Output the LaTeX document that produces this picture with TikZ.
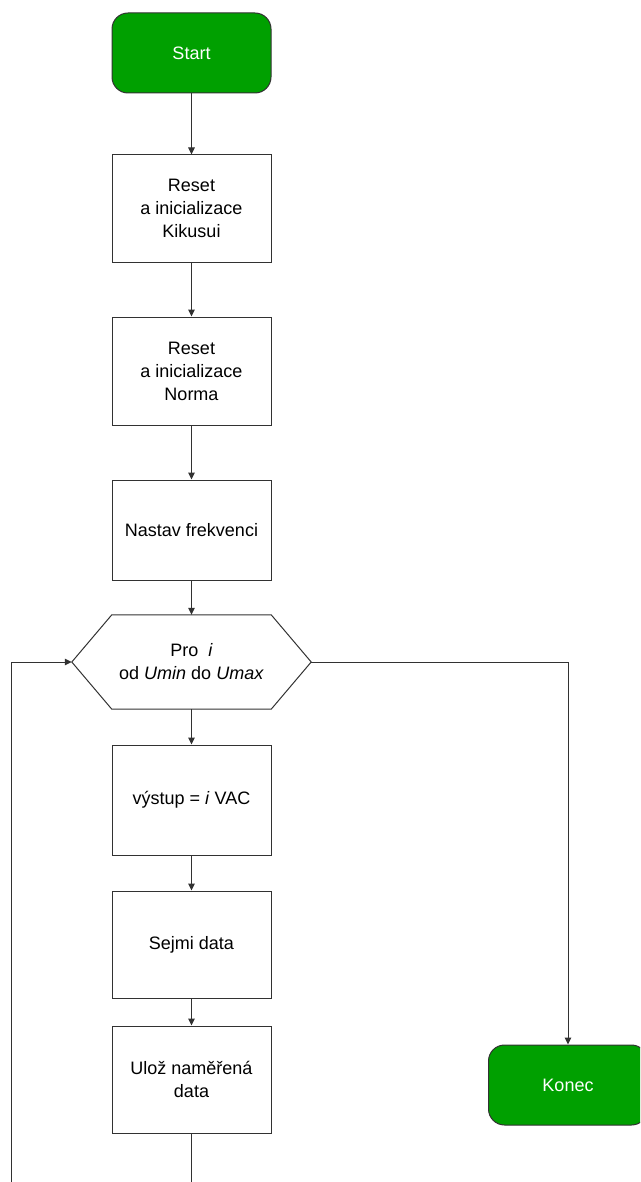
\documentclass[tikz,border=0pt]{standalone}
\usepackage{fontspec}
\setmainfont{Liberation Sans}
\usetikzlibrary{arrows.meta,calc,positioning}

\definecolor{termgreen}{RGB}{0,160,0}
\definecolor{linegray}{RGB}{50,50,50}

\begin{document}
\begin{tikzpicture}[x=1pt,y=-1pt,
  every node/.style={font=\fontsize{18}{23}\selectfont,align=center},
  box/.style={draw=linegray,line width=1pt,minimum width=159pt,inner sep=2pt},
  term/.style={box,fill=termgreen,text=white,rounded corners=16pt,minimum height=80pt},
  flow/.style={draw=linegray,line width=1pt,-{Triangle[length=7pt,width=6.5pt]}}]
  \clip (0,0) rectangle (640,1182);
  \useasboundingbox (0,0) rectangle (640,1182);
  % nodes
  \node[term] (start) at (191.5,53){Start};
  \node[box,minimum height=107pt] (resetK) at (191.5,208.5){Reset\\a inicializace\\Kikusui};
  \node[box,minimum height=108pt] (resetN) at (191.5,371){Reset\\a inicializace\\Norma};
  \node[box,minimum height=100pt] (freq) at (191.5,530){Nastav frekvenci};
  \node[minimum width=239pt,minimum height=94pt,inner sep=0pt] (loop) at (191.5,662)
    {Pro\ \ \textit{i}\\od \textit{Umin} do \textit{Umax}};
  \draw[linegray,line width=1pt] (loop.west) -- ([xshift=40pt]loop.north west)
    -- ([xshift=-40pt]loop.north east) -- (loop.east)
    -- ([xshift=-40pt]loop.south east) -- ([xshift=40pt]loop.south west) -- cycle;
  \node[box,minimum height=110pt] (output) at (191.5,800){výstup = \textit{i} VAC};
  \node[box,minimum height=107pt] (acquire) at (191.5,944.5){Sejmi data};
  \node[box,minimum height=107pt] (save) at (191.5,1079.5){Ulož naměřená\\data};
  \node[term] (stop) at (568,1085){Konec};
  \coordinate (backR) at (191.5,1195);
  \coordinate (backL) at (11,1195);
  % connectors
  \draw[flow] (start) -- (resetK);
  \draw[flow] (resetK) -- (resetN);
  \draw[flow] (resetN) -- (freq);
  \draw[flow] (freq) -- (loop);
  \draw[flow] (loop) -- (output);
  \draw[flow] (output) -- (acquire);
  \draw[flow] (acquire) -- (save);
  \draw[flow] (save) -- (backR) -- (backL) |- (loop.west);
  \draw[flow] (loop.east) -| (stop.north);
\end{tikzpicture}
\end{document}
